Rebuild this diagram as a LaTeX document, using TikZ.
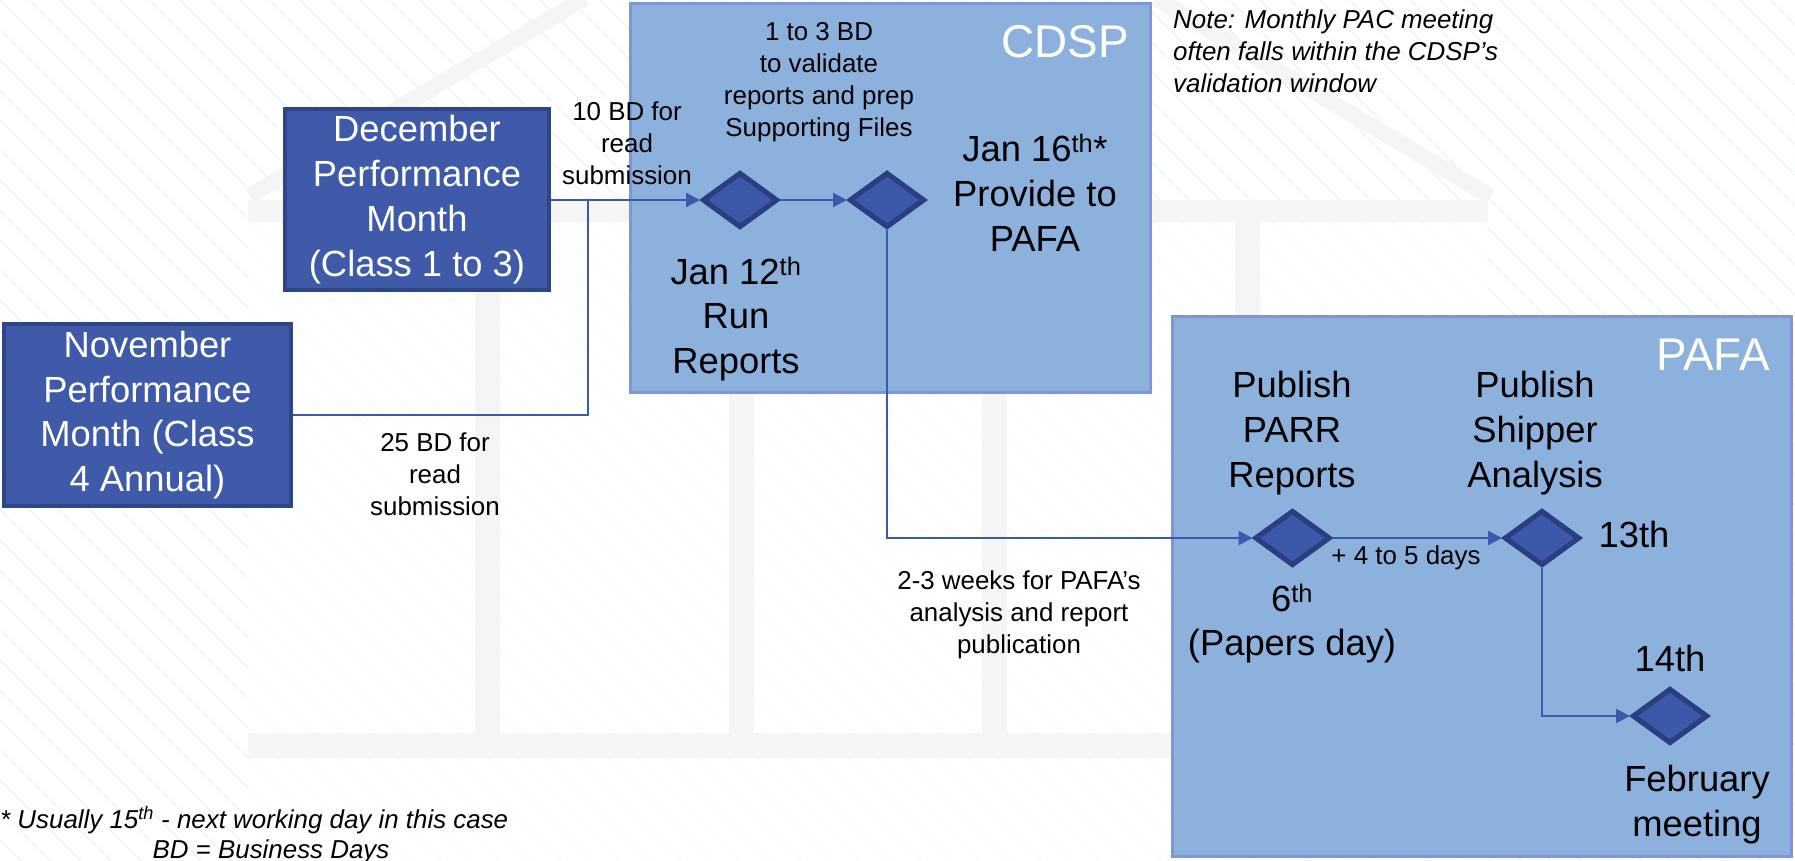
\documentclass[tikz,border=0pt]{standalone}
\usepackage{fontspec}
\setmainfont{Liberation Sans}
\usetikzlibrary{shapes.geometric,arrows.meta}
\definecolor{panelfill}{HTML}{8DB1DD}
\definecolor{panelborder}{HTML}{8195D5}
\definecolor{boxfill}{HTML}{3F5AA8}
\definecolor{boxborder}{HTML}{2E4588}
\definecolor{dfill}{HTML}{3C58A8}
\definecolor{dborder}{HTML}{2B3F80}
\definecolor{conncol}{HTML}{3D59AD}
\definecolor{stripecol}{HTML}{EAF6F6}
\definecolor{wmark}{HTML}{F5F5F5}
\tikzset{
 monthbox/.style={draw=boxborder, line width=4bp, fill=boxfill, text=white,
   font=\fontsize{36.5}{45}\selectfont, align=center, inner sep=0},
 panel/.style={draw=panelborder, line width=3bp, fill=panelfill, inner sep=0},
 milestone/.style={diamond, draw=dborder, fill=dfill, line width=5bp,
   minimum width=75bp, minimum height=55bp, inner sep=0, aspect=1.36},
 conn/.style={draw=conncol, line width=2.5bp},
 arr/.style={conn, -{Triangle[length=14bp,width=14bp]}},
 big/.style={font=\fontsize{36.5}{45}\selectfont, align=center, inner sep=0},
 small/.style={font=\fontsize{26}{32}\selectfont, align=center, inner sep=0},
 note/.style={font=\fontsize{26}{32}\selectfont\itshape, align=left, inner sep=0},
 tag/.style={font=\fontsize{46}{50}\selectfont, text=white, inner sep=0}
}
\begin{document}
\begin{tikzpicture}[x=1bp,y=-1bp]
\useasboundingbox (0,0) rectangle (1795,861);
\fill[white] (0,0) rectangle (1795,861);
% background watermark
\begin{scope}
\clip (0,0) rectangle (1795,861);
\foreach \i in {-870,-840,...,1800} \draw[stripecol, line width=1.2bp] (\i,0) -- ++(861,861);
\fill[white, opacity=0.6] (248,222) rectangle (1488,733);
\fill[white, opacity=0.6] (248,758) rectangle (1488,861);
\draw[wmark, line width=16bp] (250,196) -- (585,-2);
\draw[wmark, line width=16bp] (1490,196) -- (1155,-2);
\fill[wmark] (248,200) rectangle (1488,222);
\foreach \a in {475,729,982,1235} \fill[wmark] (\a,222) rectangle ++(25,511);
\fill[wmark] (248,733) rectangle (1488,758);
\end{scope}
% panels
\node[panel, minimum width=520bp, minimum height=389bp] (cdsp) at (890.5,198) {};
\node[panel, minimum width=619bp, minimum height=540bp] (pafa) at (1482,586.5) {};
% month boxes
\node[monthbox, minimum width=264bp, minimum height=181bp] (dec) at (417,199.5) {December\\Performance\\Month\\(Class 1 to 3)};
\node[monthbox, minimum width=287bp, minimum height=182bp] (nov) at (147.5,415) {November\\Performance\\Month (Class\\4 Annual)};
% milestones
\node[milestone] (d1) at (740,200) {};
\node[milestone] (d2) at (887,200) {};
\node[milestone] (parr) at (1292.5,538) {};
\node[milestone] (ship) at (1542,538) {};
\node[milestone] (feb) at (1670,716) {};
\coordinate (j1) at (588,200);
% connectors
\draw[arr] (dec.east |- j1) -- (d1.west);
\draw[conn] (nov.east) -| (j1);
\draw[arr] (d1.east) -- (d2.west);
\draw[arr] (d2.south) |- (parr.west);
\draw[arr] (parr.east) -- (ship.west);
\draw[arr] (ship.south) |- (feb.west);
% redraw milestones on top
\node[milestone] at (d1) {};
\node[milestone] at (d2) {};
\node[milestone] at (parr) {};
\node[milestone] at (ship) {};
\node[milestone] at (feb) {};
% labels
\node[tag, anchor=east] (cdspl) at (1129,42) {CDSP};
\node[tag, anchor=east] (pafal) at (1770,355) {PAFA};
\node[small] (l10) at (627,143.5) {10 BD for\\read\\submission};
\node[small] (l25) at (435,474.5) {25 BD for\\read\\submission};
\node[small] (l13) at (819,82) {1 to 3 BD\\to validate\\reports and prep\\Supporting Files};
\node[big] (t16) at (1035,192.5) {Jan 16\textsuperscript{th}*\\Provide to\\PAFA};
\node[big] (t12) at (736,319) {Jan 12\textsuperscript{th}\\Run\\Reports};
\node[note, anchor=west] (note) at (1173,51.5) {Note: Monthly PAC meeting\\often falls within the CDSP’s\\validation window};
\node[big] (tparr) at (1292,433) {Publish\\PARR\\Reports};
\node[big] (tship) at (1535,433) {Publish\\Shipper\\Analysis};
\node[big] (t13) at (1634,534) {13th};
\node[small] (l45) at (1406,558) {+ 4 to 5 days};
\node[big] (t6) at (1292,623.5) {6\textsuperscript{th}\\(Papers day)};
\node[big] (t14) at (1670,658) {14th};
\node[big] (tfeb) at (1697,804.5) {February\\meeting};
\node[small] (l23) at (1019,615) {2-3 weeks for PAFA’s\\analysis and report\\publication};
\node[note, anchor=west] (fn1) at (0,820) {* Usually 15\textsuperscript{th} - next working day in this case};
\node[note] (fn2) at (271,852) {BD = Business Days};
\end{tikzpicture}
\end{document}
